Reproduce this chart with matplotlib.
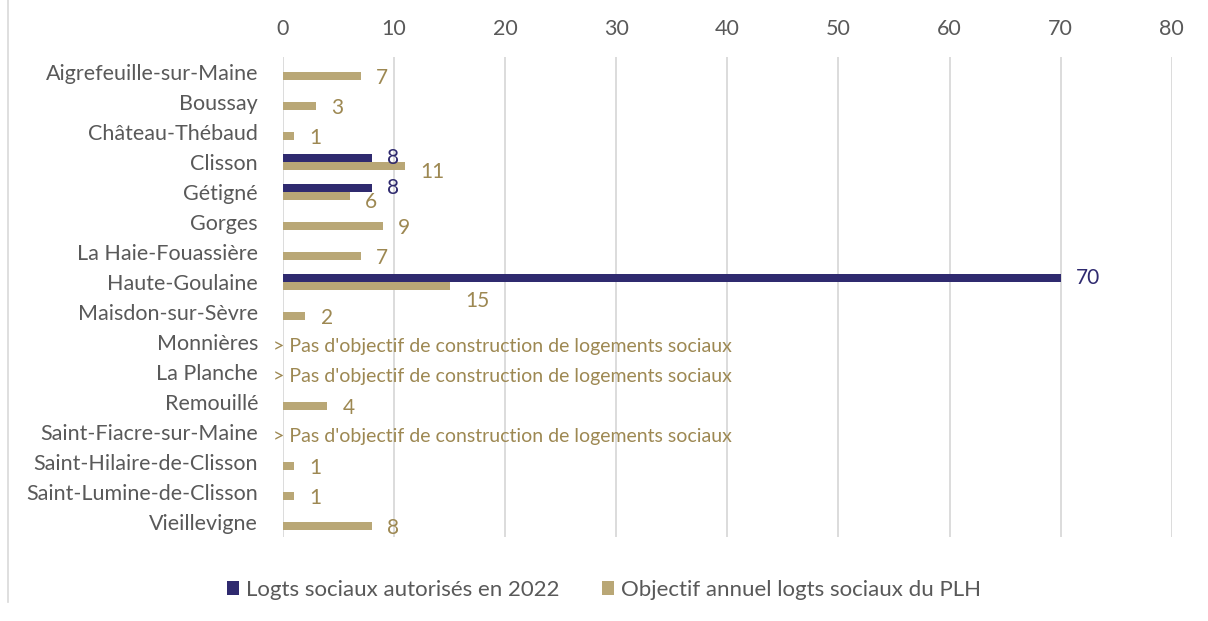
import matplotlib.pyplot as plt
import numpy as np

communes = ['Aigrefeuille-sur-Maine', 'Boussay', 'Château-Thébaud', 'Clisson', 'Gétigné',
            'Gorges', 'La Haie-Fouassière', 'Haute-Goulaine', 'Maisdon-sur-Sèvre', 'Monnières',
            'La Planche', 'Remouillé', 'Saint-Fiacre-sur-Maine', 'Saint-Hilaire-de-Clisson',
            'Saint-Lumine-de-Clisson', 'Vieillevigne']
# logements sociaux autorisés en 2022 (None = pas de barre)
autorises = [None, None, None, 8, 8, None, None, 70, None, None, None, None, None, None, None, None]
# objectif annuel du PLH (None = pas d'objectif)
objectif = [7, 3, 1, 11, 6, 9, 7, 15, 2, None, None, 4, None, 1, 1, 8]
note = "> Pas d'objectif de construction de logements sociaux"

navy = '#2f2a6f'
gold = '#b9a776'
gold_txt = '#9d8852'
grey_txt = '#595959'

plt.rcParams['font.family'] = ['Lato', 'DejaVu Sans']

fig = plt.figure(figsize=(12.08, 6.21), dpi=100)
ax = fig.add_axes([0.2343, 0.135, 0.7357, 0.773])

y = np.arange(len(communes))
h = 0.27
a_vals = [v if v is not None else 0 for v in autorises]
o_vals = [v if v is not None else 0 for v in objectif]
ax.barh(y - h / 2, a_vals, height=h, color=navy, label='Logts sociaux autorisés en 2022', zorder=3)
ax.barh(y + h / 2, o_vals, height=h, color=gold, label='Objectif annuel logts sociaux du PLH', zorder=3)

for i in range(len(communes)):
    if autorises[i] is not None:
        ax.annotate(str(autorises[i]), (autorises[i], i - h / 2), xytext=(11, 0),
                    textcoords='offset points', va='center', ha='left', fontsize=15, color=navy)
    if objectif[i] is not None:
        dy = -4 if autorises[i] is not None else -1
        if objectif[i] == 15:
            dy = -11
        ax.annotate(str(objectif[i]), (objectif[i], i + h / 2), xytext=(11, dy),
                    textcoords='offset points', va='center', ha='left', fontsize=15, color=gold_txt)
    else:
        ax.annotate(note, (0, i), xytext=(-7, -3), textcoords='offset points',
                    va='center', ha='left', fontsize=14, color=gold_txt)

ax.set_xlim(0, 80)
ax.set_ylim(len(communes) - 0.5, -0.5)
ax.set_xticks(range(0, 81, 10))
ax.xaxis.tick_top()
ax.set_yticks(y)
ax.set_yticklabels(communes)
ax.tick_params(axis='both', length=0, labelsize=15.5, labelcolor=grey_txt)
ax.tick_params(axis='x', pad=13)
ax.tick_params(axis='y', pad=18)
ax.grid(axis='x', color='#d9d9d9', linewidth=1.3, zorder=0)
for s in ax.spines.values():
    s.set_visible(False)

leg = fig.legend(loc='center', bbox_to_anchor=(0.5, 0.05), ncol=2, frameon=False,
                 fontsize=16, handlelength=0.55, handleheight=0.55, handletextpad=0.3,
                 columnspacing=1.9)
for t in leg.get_texts():
    t.set_color(grey_txt)

fig.add_artist(plt.Line2D([0.007, 0.007], [0.03, 1.0], color='#d9d9d9', linewidth=1.2))

plt.savefig('out.png', dpi=100)
